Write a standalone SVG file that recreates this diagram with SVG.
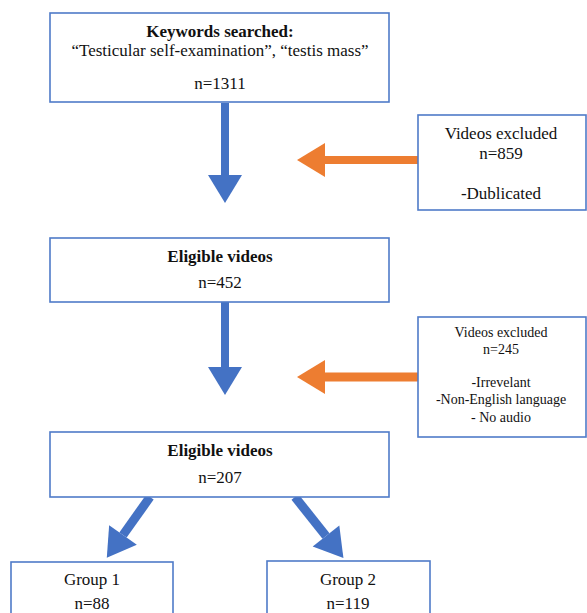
<svg xmlns="http://www.w3.org/2000/svg" width="587" height="613" viewBox="0 0 587 613">
<style>
.box{fill:#fff;stroke:#4f7bc8;stroke-width:1.6}
text{font-family:"Liberation Serif","Times New Roman",serif;fill:#111;text-anchor:middle}
.t17{font-size:17px}
.t14{font-size:14px}
.b{font-weight:bold}
.blue{stroke:#4472c4;fill:none}
.orange{stroke:#ed7d31;fill:none}
</style>
<defs>
<marker id="hb" markerUnits="userSpaceOnUse" markerWidth="28" markerHeight="34" refX="0" refY="17" orient="auto" overflow="visible"><path d="M0,0 L28,17 L0,34 z" fill="#4472c4"/></marker>
<marker id="ho" markerUnits="userSpaceOnUse" markerWidth="28" markerHeight="34" refX="0" refY="17" orient="auto" overflow="visible"><path d="M0,0 L28,17 L0,34 z" fill="#ed7d31"/></marker>
</defs>
<rect width="587" height="613" fill="#fff"/>
<g id="connectors">
<line class="blue" x1="225" y1="103" x2="225" y2="175" stroke-width="8" marker-end="url(#hb)"/>
<line class="blue" x1="225" y1="302" x2="225" y2="367" stroke-width="8" marker-end="url(#hb)"/>
<line class="orange" x1="418" y1="160" x2="325" y2="160" stroke-width="8" marker-end="url(#ho)"/>
<line class="orange" x1="418" y1="377" x2="325" y2="377" stroke-width="9" marker-end="url(#ho)"/>
<line class="blue" x1="150" y1="497" x2="123" y2="535" stroke-width="9" marker-end="url(#hb)"/>
<line class="blue" x1="295" y1="497" x2="326" y2="536" stroke-width="9" marker-end="url(#hb)"/>
</g>
<g id="keywords">
<rect class="box" x="50" y="13" width="339" height="89"/>
<text class="t17 b" x="220" y="37">Keywords searched:</text>
<text class="t17" x="220" y="56">“Testicular self-examination”, “testis mass”</text>
<text class="t17" x="220" y="89">n=1311</text>
</g>
<g id="excluded1">
<rect class="box" x="418" y="115" width="168" height="95"/>
<text class="t17" x="501" y="139">Videos excluded</text>
<text class="t17" x="501" y="159">n=859</text>
<text class="t17" x="501" y="199">-Dublicated</text>
</g>
<g id="eligible1">
<rect class="box" x="50" y="238" width="339" height="64"/>
<text class="t17 b" x="220" y="262">Eligible videos</text>
<text class="t17" x="220" y="288">n=452</text>
</g>
<g id="excluded2">
<rect class="box" x="418" y="317" width="168" height="120"/>
<text class="t14" x="501" y="337">Videos excluded</text>
<text class="t14" x="501" y="354">n=245</text>
<text class="t14" x="501" y="387">-Irrevelant</text>
<text class="t14" x="501" y="404">-Non-English language</text>
<text class="t14" x="501" y="422">- No audio</text>
</g>
<g id="eligible2">
<rect class="box" x="50" y="432" width="339" height="65"/>
<text class="t17 b" x="220" y="456">Eligible videos</text>
<text class="t17" x="220" y="483">n=207</text>
</g>
<g id="group1">
<rect class="box" x="11" y="562" width="162" height="60"/>
<text class="t17" x="92" y="585">Group 1</text>
<text class="t17" x="92" y="609">n=88</text>
</g>
<g id="group2">
<rect class="box" x="267" y="561" width="163" height="60"/>
<text class="t17" x="348" y="585">Group 2</text>
<text class="t17" x="348" y="609">n=119</text>
</g>
</svg>
